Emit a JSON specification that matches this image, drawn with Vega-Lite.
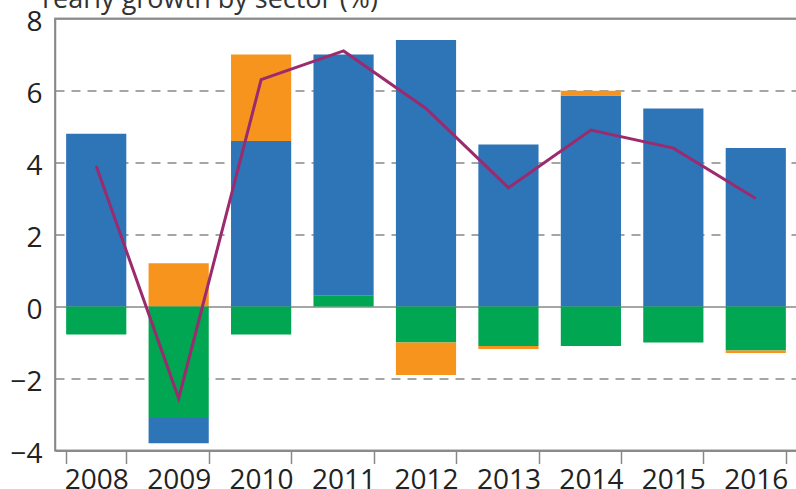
{
  "$schema": "https://vega.github.io/schema/vega-lite/v6.json",
  "width": 742,
  "height": 432,
  "autosize": {"type": "none"},
  "padding": {"left": 55, "top": 18.5, "right": 0, "bottom": 39},
  "background": "white",
  "title": {
    "text": "Yearly growth by sector (%)",
    "anchor": "start",
    "frame": "group",
    "fontSize": 27,
    "font": "Open Sans",
    "fontWeight": "normal",
    "color": "#333333",
    "baseline": "alphabetic",
    "offset": -26,
    "dx": -17
  },
  "config": {
    "view": {"stroke": "#999999", "strokeWidth": 2},
    "font": "Open Sans"
  },
  "datasets": {
    "bars": [
      {"year": "2008", "component": "Domestic demand", "value": 4.8},
      {"year": "2008", "component": "Net exports", "value": -0.78},
      {"year": "2009", "component": "Inventories", "value": 1.2},
      {"year": "2009", "component": "Net exports", "value": -3.1},
      {"year": "2009", "component": "Domestic demand", "value": -0.7},
      {"year": "2010", "component": "Domestic demand", "value": 4.6},
      {"year": "2010", "component": "Inventories", "value": 2.4},
      {"year": "2010", "component": "Net exports", "value": -0.78},
      {"year": "2011", "component": "Net exports", "value": 0.3},
      {"year": "2011", "component": "Domestic demand", "value": 6.7},
      {"year": "2012", "component": "Domestic demand", "value": 7.4},
      {"year": "2012", "component": "Net exports", "value": -1.0},
      {"year": "2012", "component": "Inventories", "value": -0.9},
      {"year": "2013", "component": "Domestic demand", "value": 4.5},
      {"year": "2013", "component": "Net exports", "value": -1.1},
      {"year": "2013", "component": "Inventories", "value": -0.08},
      {"year": "2014", "component": "Domestic demand", "value": 5.86},
      {"year": "2014", "component": "Inventories", "value": 0.13},
      {"year": "2014", "component": "Net exports", "value": -1.1},
      {"year": "2015", "component": "Domestic demand", "value": 5.5},
      {"year": "2015", "component": "Net exports", "value": -1.0},
      {"year": "2016", "component": "Domestic demand", "value": 4.4},
      {"year": "2016", "component": "Net exports", "value": -1.22},
      {"year": "2016", "component": "Inventories", "value": -0.07}
    ],
    "growth": [
      {"year": "2008", "growth": 3.9},
      {"year": "2009", "growth": -2.55},
      {"year": "2010", "growth": 6.3},
      {"year": "2011", "growth": 7.1},
      {"year": "2012", "growth": 5.5},
      {"year": "2013", "growth": 3.3},
      {"year": "2014", "growth": 4.9},
      {"year": "2015", "growth": 4.4},
      {"year": "2016", "growth": 3.0}
    ]
  },
  "layer": [
    {
      "data": {"name": "bars"},
      "transform": [
        {"calculate": "indexof(['Net exports','Domestic demand','Inventories'], datum.component)", "as": "ord"}
      ],
      "mark": {"type": "bar"},
      "encoding": {
        "x": {
          "field": "year",
          "type": "ordinal",
          "scale": {"paddingInner": 0.27, "paddingOuter": 0.135},
          "axis": {
            "title": null,
            "labelAngle": 0,
            "tickBand": "extent",
            "tickSize": 13,
            "tickColor": "#888888",
            "tickWidth": 1.5,
            "domainColor": "#888888",
            "domainWidth": 1.5,
            "labelFontSize": 28,
            "labelColor": "#222222",
            "labelPadding": 2.5,
            "grid": false
          }
        },
        "y": {
          "field": "value",
          "type": "quantitative",
          "stack": "zero",
          "scale": {"domain": [-4, 8], "nice": false},
          "axis": {
            "title": null,
            "values": [-4, -2, 0, 2, 4, 6, 8],
            "ticks": false,
            "labelPadding": 13,
            "labelOffset": 4,
            "labelFontSize": 28,
            "labelColor": "#222222",
            "domainColor": "#888888",
            "domainWidth": 1.5,
            "grid": true,
            "gridColor": "#888888",
            "gridWidth": 1.5,
            "gridDash": {"condition": {"test": "datum.value === 0 || datum.value === -4 || datum.value === 8", "value": []}, "value": [9, 7]}
          }
        },
        "color": {
          "field": "component",
          "type": "nominal",
          "scale": {
            "domain": ["Domestic demand", "Inventories", "Net exports"],
            "range": ["#2E75B8", "#F7941E", "#00A651"]
          },
          "legend": null
        },
        "order": {"field": "ord", "type": "quantitative"}
      }
    },
    {
      "data": {"name": "growth"},
      "mark": {"type": "line", "color": "#9B2A6E", "strokeWidth": 3},
      "encoding": {
        "x": {"field": "year", "type": "ordinal"},
        "y": {"field": "growth", "type": "quantitative"}
      }
    }
  ]
}
